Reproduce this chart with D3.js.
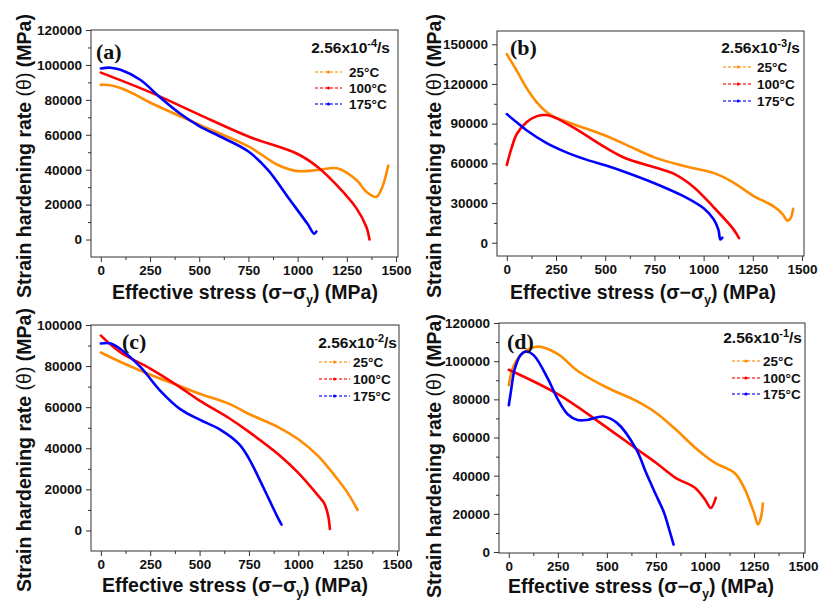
<!DOCTYPE html>
<html>
<head>
<meta charset="utf-8">
<script src="https://cdn.jsdelivr.net/npm/d3@7"></script>
<style>
  body { margin: 0; background: #fff; }
</style>
</head>
<body>
<svg id="chart" width="821" height="602"></svg>
<script>
// Temperatures and line colours shared by all four strain rates
const temps = ["25°C", "100°C", "175°C"];
const colors = ["#ff8c00", "#ff0000", "#0000ff"];
const rateExponents = ["-4", "-3", "-2", "-1"];
const panelLetters = ["(a)", "(b)", "(c)", "(d)"];

// Tick values
const xTicks = [0, 250, 500, 750, 1000, 1250, 1500];
const yTicksA = [0, 20000, 40000, 60000, 80000, 100000, 120000];
const yTicksB = [0, 30000, 60000, 90000, 120000, 150000];
const yTicksC = [0, 20000, 40000, 60000, 80000, 100000];
const yTicksD = [0, 20000, 40000, 60000, 80000, 100000, 120000];

// [effective stress (MPa), strain hardening rate (MPa)]
// (a) 2.56x10^-4 /s
const a25 = [[0,88600],[40,88500],[100,86800],[175,83000],[250,78500],[500,65800],[750,53300],[900,42700],[1000,39200],[1100,39800],[1200,40800],[1300,34000],[1350,27300],[1400,24400],[1430,30000],[1460,42300]];
const a100 = [[0,95600],[250,84400],[500,71500],[750,59000],[1000,49000],[1100,41700],[1200,31000],[1300,17700],[1350,7000],[1365,0]];
const a175 = [[0,98000],[50,98400],[100,97200],[200,91500],[300,81500],[400,72300],[500,65000],[625,58000],[750,50400],[850,39800],[950,24400],[1050,9000],[1085,3300],[1095,4600]];
// (b) 2.56x10^-3 /s
const b25 = [[0,142500],[50,130000],[100,117000],[150,106500],[200,99000],[250,94500],[350,89000],[500,81000],[650,71000],[750,64500],[900,58000],[1050,52800],[1150,45700],[1250,35700],[1350,28000],[1400,21900],[1425,16800],[1440,18000],[1455,25600]];
const b100 = [[0,58800],[25,72000],[50,82000],[100,91000],[150,95500],[200,96500],[250,94200],[350,86000],[500,72000],[600,64000],[750,57000],[850,52000],[950,42000],[1050,27000],[1150,10500],[1180,3500]];
const b175 = [[0,97200],[50,91000],[100,85000],[200,75500],[300,68500],[400,63000],[500,58500],[600,53500],[750,45000],[900,35000],[1000,26000],[1050,18000],[1075,10000],[1085,2500],[1095,3800]];
// (c) 2.56x10^-2 /s
const c25 = [[0,86600],[100,82000],[250,75800],[400,70300],[500,66500],[650,61600],[750,56700],[900,50200],[1000,44400],[1100,36300],[1200,24800],[1250,18300],[1300,10000]];
const c100 = [[0,94800],[100,86600],[250,78800],[400,69800],[500,63200],[650,54600],[750,48000],[900,37000],[1000,28000],[1100,17000],[1130,13400],[1150,7700],[1160,700]];
const c175 = [[0,91000],[50,91000],[100,88200],[200,79600],[300,68100],[400,59200],[500,53900],[600,49300],[700,42000],[750,35000],[800,25500],[850,15500],[900,5500],[915,2800]];
// (d) 2.56x10^-1 /s
const d25 = [[0,87400],[25,97600],[75,104600],[150,107600],[250,103700],[350,95000],[500,86200],[650,79200],[750,73000],[850,64300],[950,54700],[1050,46800],[1150,41500],[1200,33600],[1250,20500],[1270,14400],[1285,17900],[1295,25400]];
const d100 = [[0,95500],[250,82700],[500,65200],[650,54100],[750,46800],[850,38900],[950,33600],[1000,27500],[1030,23100],[1055,28400]];
const d175 = [[0,76900],[10,83600],[30,95800],[60,103200],[90,105100],[130,102800],[200,90600],[250,80000],[300,72200],[350,69200],[400,69200],[480,71000],[550,67800],[650,53800],[700,41500],[750,30000],[790,21000],[820,11000],[840,3900]];

// Panel layout: plot box and label placement
const panels = [
  { box: {l: 91, t: 30, w: 307, h: 227}, yDomain: [-10000, 120000], yTicks: yTicksA, series: [a25, a100, a175],
    letter: {dx: 5, dy: 29}, legend: {title: [-8, 23], line: [-83, -56], label: -49, rows: [42, 58, 74]},
    yTitle: {x: 31, y: 156}, xTitle: {x: 245, y: 299} },
  { box: {l: 497, t: 31, w: 307, h: 225}, yDomain: [-10000, 160000], yTicks: yTicksB, series: [b25, b100, b175],
    letter: {dx: 13, dy: 24}, legend: {title: [-4, 22], line: [-81, -51], label: -47, rows: [36, 53, 70]},
    yTitle: {x: 441, y: 156}, xTitle: {x: 643, y: 299} },
  { box: {l: 91, t: 325, w: 308, h: 226}, yDomain: [-10000, 100000], yTicks: yTicksC, series: [c25, c100, c175],
    letter: {dx: 31, dy: 24}, legend: {title: [-2, 23], line: [-80, -49], label: -46, rows: [37, 54, 71]},
    yTitle: {x: 31, y: 450}, xTitle: {x: 235, y: 592} },
  { box: {l: 499, t: 323, w: 306, h: 230}, yDomain: [-500, 120000], yTicks: yTicksD, series: [d25, d100, d175],
    letter: {dx: 8, dy: 26}, legend: {title: [-3, 20], line: [-73, -45], label: -42, rows: [38, 55, 71]},
    yTitle: {x: 441, y: 456}, xTitle: {x: 641, y: 593} }
];

const sans = "'Liberation Sans', Arial, sans-serif";
const serif = "'Liberation Serif', 'Times New Roman', serif";

const svg = d3.select("#chart").style("font-family", sans);
svg.append("rect").attr("width", 821).attr("height", 602).attr("fill", "#ffffff");

const axisColor = "#333";
const fmt = d3.format("d");

panels.forEach((p, i) => {
  const b = p.box;
  const x = d3.scaleLinear().domain([-50, 1510]).range([b.l, b.l + b.w]);
  const y = d3.scaleLinear().domain(p.yDomain).range([b.t + b.h, b.t]);
  const g = svg.append("g");

  // Frame
  g.append("rect").attr("x", b.l).attr("y", b.t).attr("width", b.w).attr("height", b.h)
    .attr("fill", "none").attr("stroke", axisColor).attr("stroke-width", 1);

  // Minor ticks halfway between the labelled ones
  const yStep = p.yTicks[1] - p.yTicks[0];
  const yMinor = p.yTicks.map(v => v + yStep / 2).filter(v => v <= p.yDomain[1]);
  const xMinor = xTicks.slice(0, -1).map(v => v + 125);

  const xMinorAxis = g.append("g").attr("transform", `translate(0,${b.t + b.h})`)
    .call(d3.axisBottom(x).tickValues(xMinor).tickSize(3).tickFormat(""));
  const yMinorAxis = g.append("g").attr("transform", `translate(${b.l},0)`)
    .call(d3.axisLeft(y).tickValues(yMinor).tickSize(3).tickFormat(""));

  // Major ticks and labels
  const xAxis = g.append("g").attr("transform", `translate(0,${b.t + b.h})`)
    .call(d3.axisBottom(x).tickValues(xTicks).tickSize(5).tickPadding(3).tickFormat(fmt));
  const yAxis = g.append("g").attr("transform", `translate(${b.l},0)`)
    .call(d3.axisLeft(y).tickValues(p.yTicks).tickSize(5).tickPadding(4).tickFormat(fmt));

  [xMinorAxis, yMinorAxis, xAxis, yAxis].forEach(a => {
    a.attr("font-family", null);
    a.select(".domain").remove();
    a.selectAll("line").attr("stroke", axisColor);
    a.selectAll("text").style("font-family", sans).style("font-size", "13.5px")
      .style("font-weight", "bold").attr("fill", "#111");
  });

  // Curves
  const line = d3.line().x(d => x(d[0])).y(d => y(d[1])).curve(d3.curveCatmullRom.alpha(0.5));
  p.series.forEach((s, k) => {
    g.append("path").datum(s).attr("d", line)
      .attr("fill", "none").attr("stroke", colors[k]).attr("stroke-width", 2.6)
      .attr("stroke-linejoin", "round").attr("stroke-linecap", "round");
  });

  // Panel letter
  g.append("text").attr("x", b.l + p.letter.dx).attr("y", b.t + p.letter.dy)
    .style("font-family", serif).style("font-weight", "bold").style("font-size", "22px")
    .attr("fill", "#111").text(panelLetters[i]);

  // Legend
  const right = b.l + b.w;
  const lg = p.legend;
  const title = g.append("text").attr("x", right + lg.title[0]).attr("y", b.t + lg.title[1])
    .attr("text-anchor", "end").style("font-weight", "bold").style("font-size", "15.5px").attr("fill", "#111");
  title.append("tspan").text("2.56x10");
  title.append("tspan").attr("dy", -6).style("font-size", "11px").text(rateExponents[i]);
  title.append("tspan").attr("dy", 6).text("/s");

  temps.forEach((t, k) => {
    const yy = b.t + lg.rows[k];
    g.append("line").attr("x1", right + lg.line[0]).attr("x2", right + lg.line[1])
      .attr("y1", yy).attr("y2", yy).attr("stroke", colors[k]).attr("stroke-width", 1.3)
      .attr("stroke-dasharray", "3,2").attr("opacity", 0.75);
    g.append("circle").attr("cx", right + (lg.line[0] + lg.line[1]) / 2).attr("cy", yy)
      .attr("r", 1.6).attr("fill", colors[k]);
    g.append("text").attr("x", right + lg.label).attr("y", yy + 5)
      .style("font-weight", "bold").style("font-size", "13.5px").attr("fill", "#111").text(t);
  });

  // Axis titles
  const yt = g.append("text").attr("transform", `translate(${p.yTitle.x},${p.yTitle.y}) rotate(-90)`)
    .attr("text-anchor", "middle").style("font-weight", "bold").style("font-size", "19.5px").attr("fill", "#111");
  yt.append("tspan").text("Strain hardening rate ");
  yt.append("tspan").style("font-weight", "normal").text("(θ)");
  yt.append("tspan").text(" (MPa)");

  const xt = g.append("text").attr("x", p.xTitle.x).attr("y", p.xTitle.y)
    .attr("text-anchor", "middle").style("font-weight", "bold").style("font-size", "19.5px").attr("fill", "#111");
  xt.append("tspan").text("Effective stress (σ−σ");
  xt.append("tspan").attr("dy", 5).style("font-size", "12px").text("y");
  xt.append("tspan").attr("dy", -5).text(") (MPa)");
});
</script>
</body>
</html>
